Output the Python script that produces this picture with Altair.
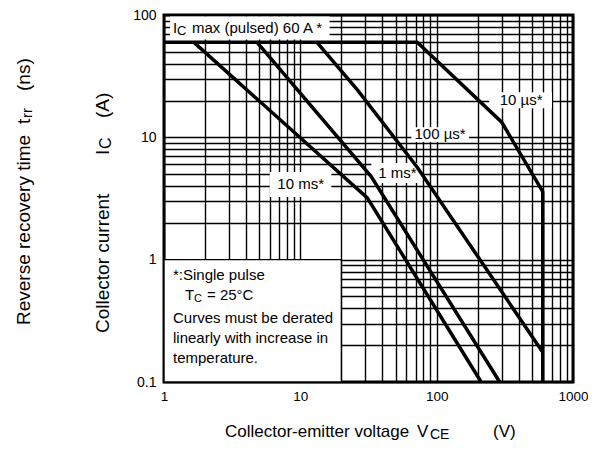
import altair as alt
import pandas as pd

FONT = "Liberation Sans"

# ---- axis grid / label values ----
x_grid = [1, 2, 3, 4, 5, 6, 7, 8, 9, 10, 20, 30, 40, 50, 60, 70, 80, 90,
          100, 200, 300, 400, 500, 600, 700, 800, 900, 1000]
y_grid = [0.1, 0.2, 0.3, 0.4, 0.5, 0.6, 0.7, 0.8, 0.9, 1, 2, 3, 4, 5, 6, 7, 8, 9,
          10, 20, 30, 40, 50, 60, 70, 80, 90, 100]
x_labels = [1, 10, 100, 1000]
y_labels = [0.1, 1, 10, 100]

# ---- SOA curves (VCE [V], IC [A]) ----
curve_names = ["10 us", "100 us", "1 ms", "10 ms"]
v_10us = [1, 72, 300, 600, 600]
i_10us = [60, 60, 13.3, 3.6, 0.1]
v_100us = [13.2, 26.3, 72, 600]
i_100us = [60, 24.3, 5.7, 0.175]
v_1ms = [4.8, 33, 290]
i_1ms = [60, 4.8, 0.1]
v_10ms = [1.65, 31, 212]
i_10ms = [60, 3.2, 0.1]

# ---- curve labels (data coordinates) ----
label_text = ["10 µs*", "100 µs*", "1 ms*", "10 ms*"]
label_v = [416, 106, 51.5, 10.05]
label_i = [20.1, 10.6, 5.12, 4.16]
box_v1 = [243, 65.2, 33.2, 5.96]
box_v2 = [701, 173, 77.1, 16.9]
box_i1 = [17.3, 9.16, 4.24, 3.26]
box_i2 = [23.4, 12.1, 6.18, 5.21]

# white panels: IC max label box and note box
panel_v1 = [1.106, 1]
panel_v2 = [16.4, 20]
panel_i1 = [63.2, 0.1]
panel_i2 = [97, 1]

rows = []
for name, vs, cs in zip(curve_names, [v_10us, v_100us, v_1ms, v_10ms],
                        [i_10us, i_100us, i_1ms, i_10ms]):
    for k, (v, c) in enumerate(zip(vs, cs)):
        rows.append({"curve": name, "k": k, "V": v, "I": c})
curves = pd.DataFrame(rows)

labels_df = pd.DataFrame({"t": label_text, "V": label_v, "I": label_i,
                          "x1": box_v1, "x2": box_v2, "y1": box_i1, "y2": box_i2})
panels_df = pd.DataFrame({"x1": panel_v1, "x2": panel_v2, "y1": panel_i1, "y2": panel_i2})

xscale = alt.Scale(type="log", domain=[1, 1000])
yscale = alt.Scale(type="log", domain=[0.1, 100])
xaxis = alt.Axis(values=x_grid, title=None, ticks=False, domain=False,
                 grid=True, gridColor="black", gridWidth=1.4, gridOpacity=1,
                 labelExpr=f"indexof({x_labels}, datum.value) >= 0 ? toString(datum.value) : ''",
                 labelFont=FONT, labelFontSize=13.5, labelColor="black",
                 labelPadding=7, labelFlush=False, labelOverlap=False)
yaxis = alt.Axis(values=y_grid, title=None, ticks=False, domain=False,
                 grid=True, gridColor="black", gridWidth=1.4, gridOpacity=1,
                 labelExpr=f"indexof({y_labels}, datum.value) >= 0 ? toString(datum.value) : ''",
                 labelFont=FONT, labelFontSize=14, labelColor="black",
                 labelPadding=8, labelFlush=False, labelOverlap=False)

lines = alt.Chart(curves).mark_line(color="black", strokeWidth=3.5).encode(
    x=alt.X("V:Q", scale=xscale, axis=xaxis),
    y=alt.Y("I:Q", scale=yscale, axis=yaxis),
    detail="curve:N",
    order="k:Q",
)

panels = alt.Chart(panels_df).mark_rect(fill="white", stroke="black", strokeWidth=1.4).encode(
    x=alt.X("x1:Q", scale=xscale, axis=xaxis), x2="x2:Q",
    y=alt.Y("y1:Q", scale=yscale, axis=yaxis), y2="y2:Q",
)
note_box = panels.transform_filter("datum.x2 > 17")
ic_box = panels.transform_filter("datum.x2 < 17").mark_rect(fill="white")

boxes = alt.Chart(labels_df).mark_rect(fill="white").encode(
    x=alt.X("x1:Q", scale=xscale, axis=xaxis), x2="x2:Q",
    y=alt.Y("y1:Q", scale=yscale, axis=yaxis), y2="y2:Q",
)
label_marks = alt.Chart(labels_df).mark_text(
    font=FONT, fontSize=15, color="black", align="center", baseline="middle"
).encode(
    x=alt.X("V:Q", scale=xscale, axis=xaxis),
    y=alt.Y("I:Q", scale=yscale, axis=yaxis),
    text="t:N",
)

OX, OY = 164, 15


def txt(s, px, py, size=15, angle=0, align="left"):
    return alt.Chart(pd.DataFrame({"t": [s]})).mark_text(
        font=FONT, fontSize=size, color="black", align=align, baseline="middle", angle=angle
    ).encode(text="t:N", x=alt.value(px - OX), y=alt.value(py - OY))


texts = [
    # IC max label
    txt("I", 173, 28), txt("C", 177, 31, 13), txt("max (pulsed) 60 A *", 192, 28),
    # notes
    txt("*:Single pulse", 173, 275),
    txt("T", 185, 295), txt("C", 194, 299, 11), txt("= 25°C", 207, 295),
    txt("Curves must be derated", 173, 318),
    txt("linearly with increase in", 173, 338),
    txt("temperature.", 173, 358),
    # x title
    txt("Collector-emitter voltage", 225, 432, 17),
    txt("V", 417, 432, 17), txt("CE", 430, 435, 14), txt("(V)", 493, 432, 17),
    # y title (collector current)
    txt("Collector current", 103, 333, 19, 270),
    txt("I", 103, 155, 19, 270), txt("C", 106, 149, 16, 270), txt("(A)", 103, 118, 19, 270),
    # y title (reverse recovery time)
    txt("Reverse recovery time", 24, 325, 19, 270),
    txt("t", 24, 124, 19, 270), txt("rr", 27, 118, 15, 270), txt("(ns)", 24, 91, 19, 270),
]

chart = alt.layer(note_box, ic_box, boxes, lines, label_marks, *texts).properties(
    width=409, height=367,
    autosize=alt.AutoSizeParams(type="none"),
    padding={"left": 156, "top": 7, "right": 15, "bottom": 60},
).configure_view(stroke="black", strokeWidth=3)

chart.save("out.html", embed_options={"renderer": "svg", "actions": False})
